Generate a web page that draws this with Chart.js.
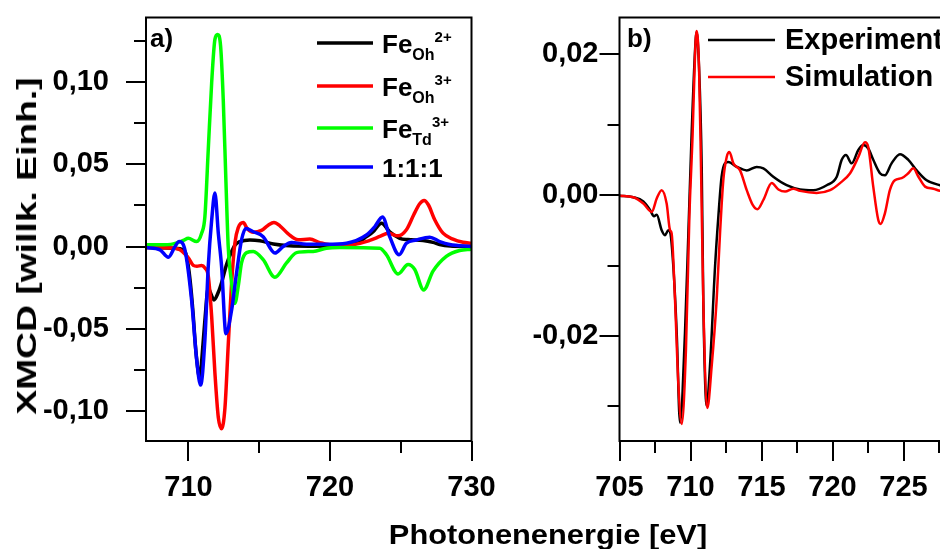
<!DOCTYPE html>
<html>
<head>
<meta charset="utf-8">
<script src="https://cdn.jsdelivr.net/npm/chart.js@4.4.0/dist/chart.umd.min.js"></script>
<style>
  html, body { margin: 0; padding: 0; background: #fff; overflow: hidden; }
  body { width: 940px; height: 549px; position: relative; font-family: "Liberation Sans", Arial, sans-serif; }
  #wrapA { position: absolute; left: 0; top: 0; width: 520px; height: 549px; }
  #wrapB { position: absolute; left: 490px; top: 0; width: 500px; height: 549px; }
  .ytitle { position: absolute; left: 27px; top: 246px; font-weight: bold; font-size: 28px; line-height: 28px;
            white-space: nowrap; transform: translate(-50%, -50%) rotate(-90deg) scaleX(1.33); }
  .xtitle { position: absolute; left: 548px; top: 535px; font-weight: bold; font-size: 28px; line-height: 28px;
            white-space: nowrap; transform: translate(-50%, -50%) scaleX(1.1); }
</style>
</head>
<body>
<div id="wrapA"><canvas id="chartA" width="520" height="549"></canvas></div>
<div id="wrapB"><canvas id="chartB" width="500" height="549"></canvas></div>
<div class="ytitle">XMCD [willk. Einh.]</div>
<div class="xtitle">Photonenenergie [eV]</div>
<script>
//!Data, panel a
var aFeOh2E = [707.0, 708.0, 709.0, 709.64, 709.87, 710.11, 710.34, 710.46, 710.6, 710.76, 710.85, 710.93, 711.16, 711.4, 711.55, 711.8, 712.1, 712.34, 712.69, 713.05, 713.3, 713.64, 714.34, 715.05, 716.0, 717.16, 718.5, 720.0, 721.87, 722.58, 723.05, 723.64, 724.22, 724.93, 725.5, 726.58, 727.28, 727.75, 728.5, 729.99];
var aFeOh2Y = [-0.0006, -0.0008, -0.001, -0.002, -0.006, -0.02, -0.042, -0.057, -0.07, -0.079, -0.078, -0.07, -0.045, -0.025, -0.028, -0.0325, -0.028, -0.022, -0.011, -0.003, 0.001, 0.003, 0.004, 0.0035, 0.0015, 0.0004, 0.0002, 0.0003, 0.002, 0.006, 0.009, 0.0142, 0.009, 0.005, 0.0042, 0.0037, 0.0025, 0.0012, 0.0003, 0.0];

var aFeOh3E = [707.0, 708.0, 709.0, 709.4, 709.75, 710.0, 710.34, 710.6, 710.93, 711.16, 711.4, 711.64, 711.87, 712.11, 712.34, 712.58, 712.81, 713.05, 713.28, 713.52, 713.87, 714.15, 714.58, 715.16, 715.64, 716.04, 716.46, 717.05, 717.75, 718.58, 719.28, 720.22, 721.64, 722.81, 723.52, 724.11, 724.81, 725.4, 725.92, 726.34, 726.65, 726.95, 727.4, 727.99, 728.69, 729.4, 729.99];
var aFeOh3Y = [-0.0006, -0.0008, -0.001, -0.002, -0.0045, -0.007, -0.0115, -0.012, -0.0115, -0.013, -0.018, -0.0427, -0.077, -0.104, -0.1108, -0.098, -0.06, -0.022, 0.002, 0.0115, 0.0146, 0.011, 0.0087, 0.0098, 0.013, 0.0146, 0.0126, 0.0077, 0.0041, 0.0045, 0.0024, 0.0008, 0.0012, 0.0037, 0.0061, 0.0081, 0.0065, 0.0102, 0.0193, 0.026, 0.028, 0.0254, 0.0163, 0.0081, 0.0045, 0.0026, 0.002];

var aFeTd3E = [707.0, 708.0, 708.93, 709.64, 709.99, 710.58, 710.93, 711.16, 711.4, 711.64, 711.87, 712.06, 712.27, 712.46, 712.65, 712.81, 713.05, 713.28, 713.52, 713.75, 714.11, 714.58, 715.28, 716.11, 716.93, 717.64, 718.81, 719.75, 720.69, 723.52, 723.99, 724.81, 725.52, 725.99, 726.62, 727.28, 728.22, 729.16, 729.99];
var aFeTd3Y = [0.001, 0.001, 0.0016, 0.0037, 0.005, 0.003, 0.008, 0.018, 0.059, 0.0996, 0.126, 0.129, 0.122, 0.089, 0.039, 0.0, -0.022, -0.0346, -0.024, -0.01, -0.0037, -0.003, -0.008, -0.0187, -0.01, -0.0037, -0.003, -0.001, -0.0006, -0.001, -0.005, -0.0167, -0.011, -0.014, -0.0264, -0.015, -0.006, -0.0024, -0.0016];

var aMixE = [707.0, 707.99, 708.58, 709.05, 709.35, 709.75, 710.22, 710.58, 710.86, 711.16, 711.4, 711.64, 711.87, 712.11, 712.34, 712.65, 713.05, 713.4, 713.75, 714.06, 714.58, 715.28, 716.11, 716.69, 717.28, 718.34, 719.75, 721.16, 722.58, 723.16, 723.71, 724.22, 724.88, 725.4, 726.11, 727.05, 727.75, 728.46, 729.99];
var aMixY = [-0.0006, -0.002, -0.0065, 0.0, 0.003, -0.002, -0.0325, -0.069, -0.0843, -0.057, -0.012, 0.016, 0.0325, 0.008, -0.012, -0.053, -0.0386, -0.016, 0.004, 0.011, 0.009, 0.006, -0.004, 0.0, 0.0024, 0.0014, 0.0014, 0.002, 0.007, 0.012, 0.018, 0.006, -0.005, 0.002, 0.004, 0.0057, 0.003, 0.0012, 0.0];

var aXTicks = [710, 715, 720, 725, 730];
var aXLabels = ['710', '', '720', '', '730'];
var aYTicks = [-0.1, -0.075, -0.05, -0.025, 0, 0.025, 0.05, 0.075, 0.1, 0.125];
var aYLabels = ['-0,10', '', '-0,05', '', '0,00', '', '0,05', '', '0,10', ''];
var aLegendBase = ['Fe', 'Fe', 'Fe', '1:1:1'];
var aLegendSub = ['Oh', 'Oh', 'Td', ''];
var aLegendSup = ['2+', '3+', '3+', ''];

//!Data, panel b
var bExpE = [705.0, 705.97, 706.68, 707.15, 707.43, 707.62, 707.97, 708.2, 708.44, 708.56, 708.79, 709.03, 709.26, 709.61, 709.85, 710.08, 710.32, 710.43, 710.6, 710.79, 710.9, 711.14, 711.37, 711.73, 711.96, 712.19, 712.43, 712.66, 713.26, 713.96, 714.66, 715.13, 715.83, 716.77, 717.71, 718.65, 719.59, 720.3, 720.65, 720.95, 721.35, 721.82, 722.17, 722.52, 722.87, 723.34, 723.69, 724.16, 724.75, 725.34, 725.93, 726.63, 727.57, 728.5, 729.5, 730.0];
var bExpY = [-0.0001, -0.0003, -0.0009, -0.0021, -0.003, -0.0028, -0.005, -0.0057, -0.005, -0.0052, -0.0101, -0.0196, -0.0323, -0.0196, -0.0054, 0.0087, 0.0205, 0.0231, 0.0182, 0.004, -0.0149, -0.0299, -0.0243, -0.0101, -0.0031, 0.0026, 0.0045, 0.0047, 0.004, 0.0035, 0.004, 0.0038, 0.0026, 0.0014, 0.0008, 0.0007, 0.0014, 0.0026, 0.005, 0.0057, 0.0045, 0.0064, 0.0071, 0.0066, 0.005, 0.0031, 0.0028, 0.0045, 0.0058, 0.005, 0.0035, 0.0021, 0.0014, 0.001, 0.0007, 0.0006];

var bSimE = [705.0, 705.97, 706.68, 707.27, 707.62, 707.97, 708.32, 708.56, 708.67, 708.91, 709.14, 709.38, 709.68, 709.92, 710.15, 710.32, 710.43, 710.6, 710.74, 710.9, 711.19, 711.49, 711.84, 712.08, 712.31, 712.55, 712.74, 713.02, 713.49, 713.96, 714.38, 714.71, 715.13, 715.72, 716.19, 716.66, 717.24, 717.71, 718.88, 719.83, 720.53, 721.24, 721.82, 722.29, 722.52, 722.87, 723.22, 723.39, 723.69, 724.04, 724.39, 724.87, 725.34, 725.69, 726.05, 726.52, 727.1, 727.57, 728.5, 729.5, 730.0];
var bSimY = [-0.0001, -0.0003, -0.0012, -0.0024, -0.0005, 0.0007, -0.0012, -0.005, -0.0054, -0.0149, -0.0266, -0.0325, -0.0219, -0.0031, 0.0087, 0.02, 0.0233, 0.0182, 0.004, -0.0149, -0.0302, -0.0243, -0.0149, -0.0054, 0.0021, 0.0054, 0.0061, 0.0045, 0.0035, 0.0007, -0.0014, -0.002, -0.0007, 0.0017, 0.0008, 0.0005, 0.0009, 0.0006, 0.0003, 0.0007, 0.0017, 0.0031, 0.0054, 0.0075, 0.0068, 0.0012, -0.0035, -0.0041, -0.0026, 0.0007, 0.0021, 0.0024, 0.0031, 0.0038, 0.0026, 0.0012, 0.0009, 0.0006, 0.0004, 0.0003, 0.0003];

var bXTicks = [705, 707.5, 710, 712.5, 715, 717.5, 720, 722.5, 725, 727.5, 730];
var bXLabels = ['705', '', '710', '', '715', '', '720', '', '725', '', '730'];
var bYTicks = [-0.03, -0.02, -0.01, 0, 0.01, 0.02];
var bYLabels = ['', '-0,02', '', '0,00', '', '0,02'];
var bLegend = ['Experiment', 'Simulation'];

var FONT = '"Liberation Sans", Arial, sans-serif';

function pts(xs, ys) {
  return xs.map(function(x, i) { return { x: x, y: ys[i] }; });
}

// scales must not push the plot area around with label overhang
function noPad(s) {
  s.paddingLeft = 0; s.paddingRight = 0; s.paddingTop = 0; s.paddingBottom = 0;
}

//!Frame and tick marks (major long, minor short)
var frameTicks = {
  id: "frameTicks",
  afterDraw: function(chart) {
    var ctx = chart.ctx, a = chart.chartArea;
    var xs = chart.scales.x, ys = chart.scales.y;
    ctx.save();
    ctx.strokeStyle = "#000";
    ctx.lineWidth = 2;
    ctx.strokeRect(a.left, a.top, a.right - a.left, a.bottom - a.top);
    ctx.beginPath();
    xs.ticks.forEach(function(t) {
      var p = Math.round(xs.getPixelForValue(t.value));
      ctx.moveTo(p, a.bottom);
      ctx.lineTo(p, a.bottom + (t.label ? 20 : 12));
    });
    ys.ticks.forEach(function(t) {
      var p = Math.round(ys.getPixelForValue(t.value));
      ctx.moveTo(a.left, p);
      ctx.lineTo(a.left - (t.label ? 20 : 12), p);
    });
    ctx.stroke();
    ctx.restore();
  }
};

function makeOptions(o) {
  return {
    responsive: false,
    animation: false,
    devicePixelRatio: 1,
    layout: { padding: { top: 17.5, right: o.padRight, left: 0, bottom: 0 } },
    plugins: { legend: { display: false }, tooltip: { enabled: false } },
    elements: {
      point: { radius: 0 },
      line: { borderWidth: o.lineWidth, cubicInterpolationMode: "monotone" }
    },
    scales: {
      x: {
        type: "linear",
        min: o.xMin,
        max: o.xMax,
        afterFit: function(s) { s.height = 108; noPad(s); },
        afterBuildTicks: function(s) { s.ticks = o.xTicks.map(function(v) { return { value: v }; }); },
        ticks: {
          autoSkip: false, maxRotation: 0, padding: 30, color: "#000",
          font: { family: FONT, size: 29, weight: "bold" },
          callback: function(v, i) { return o.xLabels[i]; }
        },
        grid: { display: false, drawTicks: false },
        border: { display: false }
      },
      y: {
        type: "linear",
        min: o.yMin,
        max: o.yMax,
        afterFit: function(s) { s.width = o.yWidth; noPad(s); },
        afterBuildTicks: function(s) { s.ticks = o.yTicks.map(function(v) { return { value: v }; }); },
        ticks: {
          autoSkip: false, padding: o.yPad, color: "#000",
          font: { family: FONT, size: 29, weight: "bold" },
          callback: function(v, i) { return o.yLabels[i]; }
        },
        grid: { display: false, drawTicks: false },
        border: { display: false }
      }
    }
  };
}

//!Chart a
var legendA = {
  id: "legendA",
  afterDraw: function(chart) {
    var ctx = chart.ctx;
    var colors = ["#000000", "#ff0000", "#00ff00", "#0000ff"];
    var rows = [43, 86, 128, 167];
    ctx.save();
    ctx.fillStyle = "#000";
    ctx.textBaseline = "alphabetic";
    ctx.font = "bold 26px " + FONT;
    ctx.fillText("a)", 150, 47);
    rows.forEach(function(y, i) {
      ctx.strokeStyle = colors[i];
      ctx.lineWidth = 3.5;
      ctx.beginPath();
      ctx.moveTo(317, y);
      ctx.lineTo(373, y);
      ctx.stroke();
      var x = 382;
      ctx.font = "bold 26px " + FONT;
      ctx.fillText(aLegendBase[i], x, y + 10);
      x += ctx.measureText(aLegendBase[i]).width;
      if (aLegendSub[i]) {
        ctx.font = "bold 16px " + FONT;
        ctx.fillText(aLegendSub[i], x, y + 17);
        x += ctx.measureText(aLegendSub[i]).width;
      }
      if (aLegendSup[i]) {
        ctx.font = "bold 15px " + FONT;
        ctx.fillText(aLegendSup[i], x, y - 1);
      }
    });
    ctx.restore();
  }
};

new Chart(document.getElementById("chartA").getContext("2d"), {
  type: "line",
  data: {
    datasets: [
      { label: "FeOh2+", data: pts(aFeOh2E, aFeOh2Y), borderColor: "#000000", order: 4 },
      { label: "FeOh3+", data: pts(aFeOh3E, aFeOh3Y), borderColor: "#ff0000", order: 3 },
      { label: "FeTd3+", data: pts(aFeTd3E, aFeTd3Y), borderColor: "#00ff00", order: 2 },
      { label: "1:1:1", data: pts(aMixE, aMixY), borderColor: "#0000ff", order: 1 }
    ]
  },
  options: makeOptions({
    xMin: 707, xMax: 730, yMin: -0.1183, yMax: 0.1393,
    xTicks: aXTicks, xLabels: aXLabels, yTicks: aYTicks, yLabels: aYLabels,
    yWidth: 146, yPad: 37, padRight: 48.5, lineWidth: 3.5
  }),
  plugins: [frameTicks, legendA]
});

//!Chart b
var legendB = {
  id: "legendB",
  afterDraw: function(chart) {
    var ctx = chart.ctx;
    var colors = ["#000000", "#ff0000"];
    var rows = [40, 77];
    ctx.save();
    ctx.fillStyle = "#000";
    ctx.font = "bold 26px " + FONT;
    ctx.fillText("b)", 137, 47);
    ctx.font = "bold 29px " + FONT;
    rows.forEach(function(y, i) {
      ctx.strokeStyle = colors[i];
      ctx.lineWidth = 2.5;
      ctx.beginPath();
      ctx.moveTo(218, y);
      ctx.lineTo(285, y);
      ctx.stroke();
      ctx.fillText(bLegend[i], 295, y + 9);
    });
    ctx.restore();
  }
};

new Chart(document.getElementById("chartB").getContext("2d"), {
  type: "line",
  data: {
    datasets: [
      { label: "Experiment", data: pts(bExpE, bExpY), borderColor: "#000000", order: 2 },
      { label: "Simulation", data: pts(bSimE, bSimY), borderColor: "#ff0000", order: 1 }
    ]
  },
  options: makeOptions({
    xMin: 705, xMax: 730, yMin: -0.0349, yMax: 0.0252,
    xTicks: bXTicks, xLabels: bXLabels, yTicks: bYTicks, yLabels: bYLabels,
    yWidth: 129.5, yPad: 21, padRight: 15.5, lineWidth: 2.5
  }),
  plugins: [frameTicks, legendB]
});
</script>
</body>
</html>
